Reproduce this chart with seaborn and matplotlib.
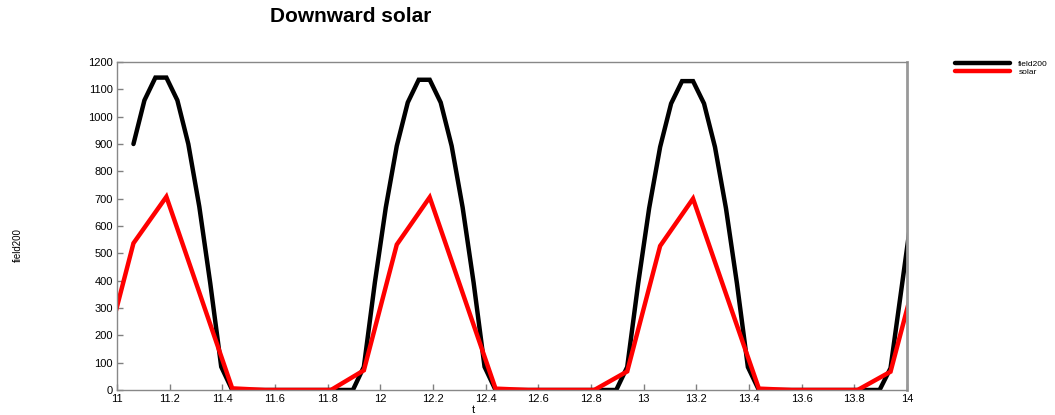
import numpy as np
import pandas as pd
import matplotlib
matplotlib.use("Agg")
import matplotlib.pyplot as plt
import seaborn as sns

# hourly field200 (times in days, half-hour offsets)
field_t = [11.0625, 11.1042, 11.1458, 11.1875, 11.2292, 11.2708, 11.3125, 11.3542, 11.3958, 11.4375,
           11.4792, 11.5208, 11.5625, 11.6042, 11.6458, 11.6875, 11.7292, 11.7708, 11.8125, 11.8542, 11.8958,
           11.9375, 11.9792, 12.0208, 12.0625, 12.1042, 12.1458, 12.1875, 12.2292, 12.2708, 12.3125, 12.3542, 12.3958, 12.4375,
           12.4792, 12.5208, 12.5625, 12.6042, 12.6458, 12.6875, 12.7292, 12.7708, 12.8125, 12.8542, 12.8958,
           12.9375, 12.9792, 13.0208, 13.0625, 13.1042, 13.1458, 13.1875, 13.2292, 13.2708, 13.3125, 13.3542, 13.3958, 13.4375,
           13.4792, 13.5208, 13.5625, 13.6042, 13.6458, 13.6875, 13.7292, 13.7708, 13.8125, 13.8542, 13.8958,
           13.9375, 13.9792, 14.0208]
field_v = [900, 1060, 1143, 1143, 1060, 900, 671, 390, 85, 0,
           0, 0, 0, 0, 0, 0, 0, 0, 0, 0, 0,
           85, 393, 668, 893, 1052, 1135, 1135, 1052, 893, 668, 393, 85, 0,
           0, 0, 0, 0, 0, 0, 0, 0, 0, 0, 0,
           84, 390, 665, 889, 1048, 1130, 1130, 1048, 889, 665, 390, 84, 0,
           0, 0, 0, 0, 0, 0, 0, 0, 0, 0, 0,
           80, 372, 665]

# 3-hourly solar
solar_t = [10.9375, 11.0625, 11.1875, 11.3125, 11.4375, 11.5625, 11.6875, 11.8125,
           11.9375, 12.0625, 12.1875, 12.3125, 12.4375, 12.5625, 12.6875, 12.8125,
           12.9375, 13.0625, 13.1875, 13.3125, 13.4375, 13.5625, 13.6875, 13.8125,
           13.9375, 14.0625]
solar_v = [73, 537, 707, 357, 6, 0, 0, 0,
           72, 532, 705, 355, 5, 0, 0, 0,
           68, 527, 700, 352, 5, 0, 0, 0,
           67, 523]

x_ticks = [11, 11.2, 11.4, 11.6, 11.8, 12, 12.2, 12.4, 12.6, 12.8, 13, 13.2, 13.4, 13.6, 13.8, 14]
x_tick_labels = ["11", "11.2", "11.4", "11.6", "11.8", "12", "12.2", "12.4", "12.6", "12.8",
                 "13", "13.2", "13.4", "13.6", "13.8", "14"]
y_ticks = list(range(0, 1300, 100))

sns.set_style("white")
plt.rcParams['font.family'] = ['Liberation Sans', 'DejaVu Sans']
plt.rcParams['text.color'] = 'black'
plt.rcParams['xtick.color'] = 'black'
plt.rcParams['ytick.color'] = 'black'
plt.rcParams['axes.labelcolor'] = 'black'

W, H = 1055, 415
fig = plt.figure(figsize=(W / 100, H / 100), dpi=100)
ax = fig.add_axes([117 / W, 1 - 390 / H, (907 - 117) / W, (390 - 62) / H])

df_f = pd.DataFrame({"t": field_t, "v": field_v})
df_s = pd.DataFrame({"t": solar_t, "v": solar_v})
sns.lineplot(data=df_f, x="t", y="v", ax=ax, color="black", lw=3.2, label="field200",
             solid_joinstyle="miter")
sns.lineplot(data=df_s, x="t", y="v", ax=ax, color="#ff0000", lw=3.2, label="solar",
             solid_joinstyle="miter")

ax.set_xlim(11, 14)
ax.set_ylim(0, 1200)
ax.set_xticks(x_ticks)
ax.set_xticklabels(x_tick_labels)
ax.set_yticks(y_ticks)
ax.tick_params(axis="both", direction="in", length=4, width=1, color="#808080",
               labelcolor="black", labelsize=8, pad=3,
               bottom=True, left=True, top=False, right=False)
ax.set_xlabel("")
ax.set_ylabel("")
for side in ["top", "bottom", "left"]:
    ax.spines[side].set_color("#888888")
    ax.spines[side].set_linewidth(1.0)
ax.spines["right"].set_color("#999999")
ax.spines["right"].set_linewidth(2.0)

fig.text(351 / W, 1 - 17 / H, "Downward solar", ha="center", va="center",
         fontsize=15, fontweight="bold", color="black")
fig.text(473 / W, 1 - 410 / H, "t", ha="center", va="center", fontsize=8, color="black")
fig.text(18 / W, 1 - 245 / H, "field200", ha="center", va="center", fontsize=7,
         rotation=90, color="black")

leg = ax.legend(loc="upper left", bbox_to_anchor=(955 / W, 1 - 60 / H), bbox_transform=fig.transFigure,
                frameon=False, fontsize=6, handlelength=6.6, handletextpad=1.0, labelspacing=0.05,
                borderpad=0, borderaxespad=0)
for txt in leg.get_texts():
    txt.set_color("black")

fig.savefig("out.png", dpi=100)
